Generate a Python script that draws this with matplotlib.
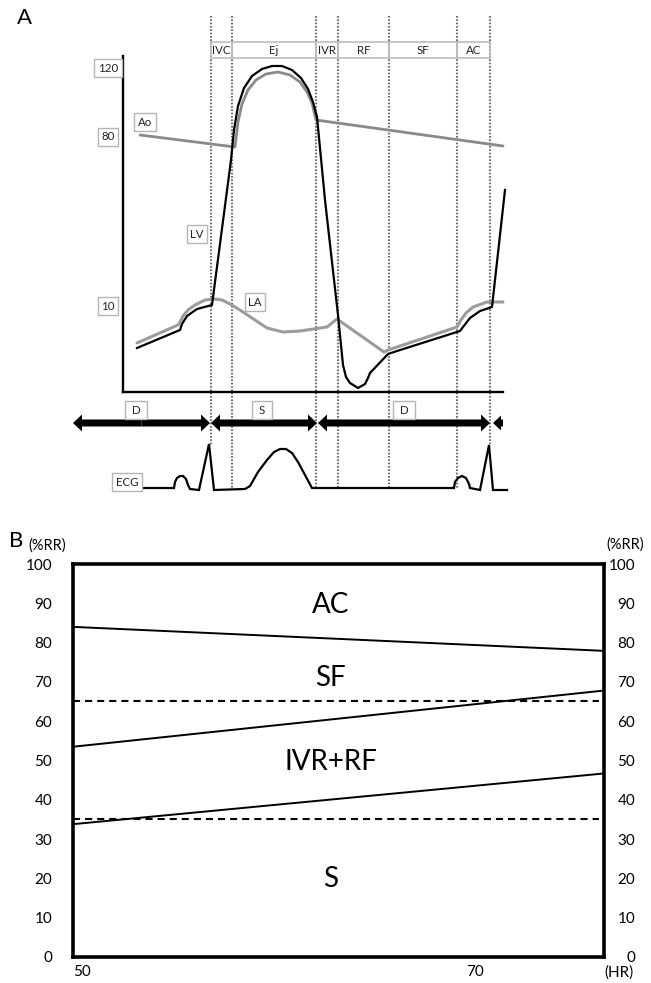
import matplotlib
matplotlib.use("Agg")
import matplotlib.pyplot as plt
from matplotlib.patches import Rectangle, FancyArrow

plt.rcParams['font.family'] = ['Lato', 'DejaVu Sans']

# ---------------- Panel A (schematic, diagram units) ----------------
phase_bounds = [211, 232, 316, 338, 389, 457, 490]
phase_names = ['IVC', 'Ej', 'IVR', 'RF', 'SF', 'AC']
vline_bottom = [445, 488, 488, 488, 488, 488, 445]

lv_t = [137, 180, 182, 187, 197, 212, 231, 234, 238, 244, 252, 262, 272, 282, 292, 301, 308, 313, 317,
        325, 338, 343, 346, 350, 358, 365, 368, 370, 388, 397, 460, 463, 470, 480, 492, 505]
lv_p = [348, 330, 324, 316, 309, 305, 160, 130, 106, 88, 76, 69, 66, 66, 70, 78, 89, 102, 117,
        200, 315, 365, 377, 383, 388, 384, 378, 373, 354, 351, 331, 327, 318, 311, 307, 190]

ao_t = [140, 235, 238, 242, 248, 256, 266, 278, 290, 300, 307, 312, 316, 503]
ao_p = [135, 147, 122, 104, 90, 80, 74, 72, 75, 82, 92, 103, 120, 146]

la_t = [137, 178, 180, 183, 188, 195, 205, 215, 222, 230, 240, 255, 267, 283, 300, 320, 327, 337,
        384, 388, 457, 461, 466, 473, 487, 503]
la_p = [343, 325, 322, 316, 310, 305, 300, 299, 300, 304, 310, 320, 328, 332, 331, 328, 327, 319,
        352, 350, 327, 320, 313, 307, 302, 302]

ecg_t = [142, 174, 175, 177, 180, 183, 186, 188, 190, 199, 209, 214, 245, 250, 258, 267, 274, 280,
         286, 292, 298, 305, 312, 454, 455, 458, 462, 466, 469, 470, 480, 489, 493, 507]
ecg_v = [488, 488, 482, 478, 476, 476, 479, 485, 489, 490, 444, 490, 489, 486, 472, 460, 452, 449,
         449, 453, 462, 475, 488, 488, 482, 478, 476, 478, 484, 488, 490, 445, 490, 490]

press_labels = ['120', '80', '10']
press_pos = [68, 137, 306]

curve_labels = ['Ao', 'LV', 'LA']
curve_label_pos = [(145, 122), (197, 234), (255, 302)]

arrow_spans = [(73, 210), (211, 317), (318, 490)]
arrow_labels = ['D', 'S', 'D']
arrow_label_x = [136, 262, 404]

# ---------------- Panel B ----------------
hr_ends = [50, 77]
ac_sf = [84.0, 77.9]
sf_ivr = [53.5, 67.8]
ivr_s = [33.8, 46.7]
dashed_levels = [65.2, 35.1]
region_names = ['AC', 'SF', 'IVR+RF', 'S']
region_y = [89.6, 71.1, 49.7, 19.8]
region_x = 63.1
y_ticks = [0, 10, 20, 30, 40, 50, 60, 70, 80, 90, 100]
x_ticks = [50, 70, 77]
x_tick_labels = ['50', '70', '(HR)']

W, H = 651, 983
fig = plt.figure(figsize=(W / 100, H / 100), dpi=100)

# ---- panel A axes: diagram coordinates ----
axA = fig.add_axes([0, (H - 510) / H, 1, 510 / H])
axA.set_xlim(0, W)
axA.set_ylim(510, 0)
axA.axis('off')

box = dict(boxstyle='square,pad=0.32', fc='white', ec='#b5b5b5', lw=1)
tfs = 8.3

# dotted phase lines
for x, yb in zip(phase_bounds, vline_bottom):
    axA.plot([x, x], [16, yb], color='#707070', lw=1.5, ls=(0, (0.8, 0.8)), zorder=1)

# header cells
for i, name in enumerate(phase_names):
    x0, x1 = phase_bounds[i], phase_bounds[i + 1]
    axA.add_patch(Rectangle((x0, 42), x1 - x0, 16, fill=False, ec='#bdbdbd', lw=1.2, zorder=2))
    axA.text((x0 + x1) / 2, 50.5, name, ha='center', va='center', fontsize=tfs, color='#222222', zorder=3)

# axes lines
axA.plot([123, 123], [56, 392], color='black', lw=1.7, zorder=2)
axA.plot([123, 503], [392, 392], color='black', lw=1.7, zorder=2)

# pressure labels
for lab, y in zip(press_labels, press_pos):
    axA.text(108, y, lab, ha='center', va='center', fontsize=tfs, color='#222222', bbox=box, zorder=4)

# curves
axA.plot(la_t, la_p, color='#9c9c9c', lw=2.2, solid_capstyle='round', zorder=3)
axA.plot(ao_t, ao_p, color='#8a8a8a', lw=2.0, solid_capstyle='round', zorder=3)
axA.plot(lv_t, lv_p, color='black', lw=1.6, solid_joinstyle='round', zorder=4)

for lab, (x, y) in zip(curve_labels, curve_label_pos):
    axA.text(x, y, lab, ha='center', va='center', fontsize=tfs, color='#222222', bbox=box, zorder=5)

# D / S arrows
ay = 423
for (x0, x1), lab, lx in zip(arrow_spans, arrow_labels, arrow_label_x):
    mid = (x0 + x1) / 2
    for s, e in ((mid, x0), (mid, x1)):
        axA.add_patch(FancyArrow(s, ay, e - s, 0, width=7, head_width=17, head_length=9,
                                 length_includes_head=True, color='black', lw=0, zorder=4))
    axA.text(lx, 410, ' ' + lab + ' ', ha='center', va='center', fontsize=tfs, color='#222222',
             bbox=box, zorder=5)
axA.add_patch(FancyArrow(503, ay, -10, 0, width=7, head_width=15, head_length=8,
                         length_includes_head=True, color='black', lw=0, zorder=4))

# ECG
axA.plot(ecg_t, ecg_v, color='black', lw=1.6, solid_joinstyle='miter', zorder=4)
axA.text(127, 482, 'ECG', ha='center', va='center', fontsize=tfs, color='#222222', bbox=box, zorder=5)

fig.text(17 / W, 1 - 18 / H, 'A', fontsize=16, ha='left', va='center')

# ---- panel B ----
axB = fig.add_axes([73 / W, 26 / H, 531 / W, 393 / H])
axB.set_xlim(hr_ends[0], hr_ends[1])
axB.set_ylim(0, 100)
for sp in axB.spines.values():
    sp.set_linewidth(2.6)

axB.plot(hr_ends, ac_sf, color='black', lw=1.4)
axB.plot(hr_ends, sf_ivr, color='black', lw=1.4)
axB.plot(hr_ends, ivr_s, color='black', lw=1.4)
for lvl in dashed_levels:
    axB.axhline(lvl, xmin=0, xmax=0.99, color='black', lw=1.5, dashes=(3.4, 2.4))

for name, y in zip(region_names, region_y):
    axB.text(region_x, y, name, ha='center', va='center', fontsize=20)

axB.set_yticks(y_ticks)
axB.set_yticklabels([str(v) for v in y_ticks], fontsize=11)
axB.tick_params(axis='y', length=0, pad=15)
axB.set_xticks(x_ticks)
axB.set_xticklabels(x_tick_labels, fontsize=11)
axB.tick_params(axis='x', length=0, pad=6)
for lab in axB.get_xticklabels():
    lab.set_ha('left')

axR = axB.twinx()
axR.set_ylim(0, 100)
axR.set_yticks(y_ticks)
axR.set_yticklabels([str(v) for v in y_ticks], fontsize=11)
axR.tick_params(axis='y', length=0, pad=22.5)
for lab in axR.get_yticklabels():
    lab.set_ha('right')
for sp in axR.spines.values():
    sp.set_visible(False)

fig.text(9 / W, 1 - 541 / H, 'B', fontsize=16, ha='left', va='center')
fig.text(47 / W, 1 - 546 / H, '(%RR)', fontsize=10.5, ha='center', va='center')
fig.text(625 / W, 1 - 545 / H, '(%RR)', fontsize=10.5, ha='center', va='center')

fig.savefig('out.png', dpi=100)
